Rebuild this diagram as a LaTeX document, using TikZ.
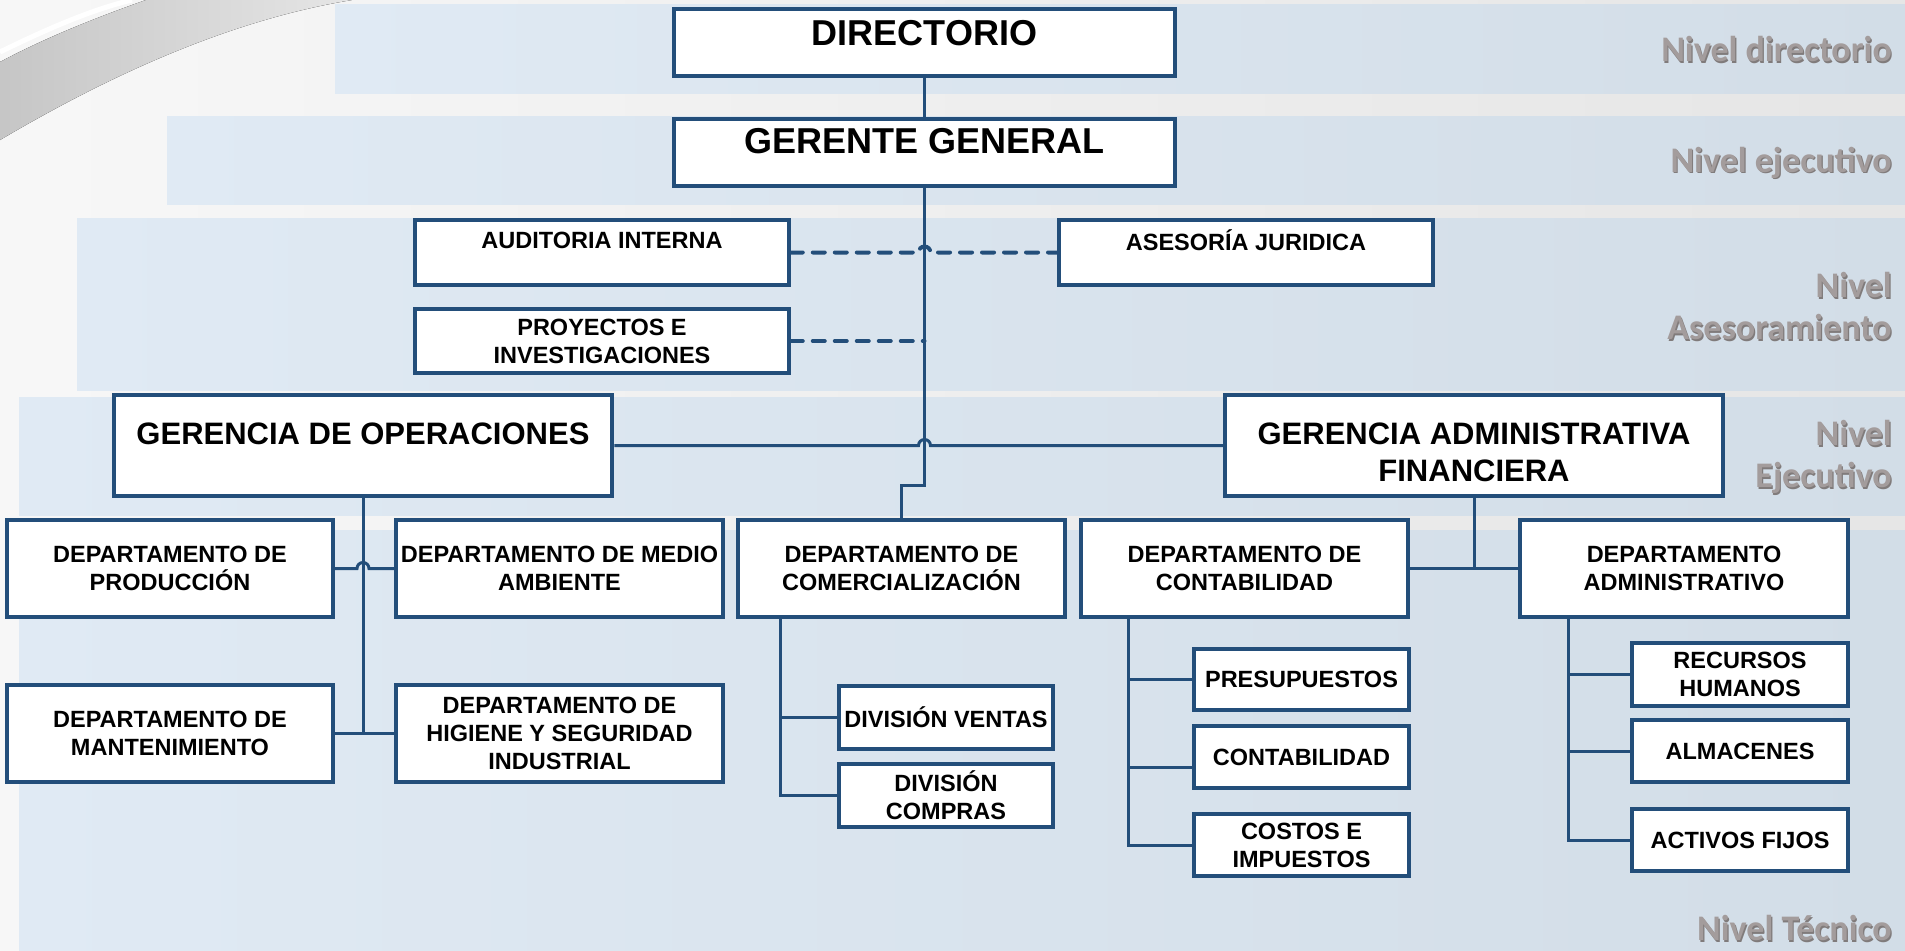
\documentclass[tikz,border=0pt]{standalone}
\usepackage{fontspec}
\setmainfont{Liberation Sans}
\newfontfamily\nivelfont{Carlito}
\usetikzlibrary{calc}

\definecolor{orgblue}{RGB}{35,78,122}
\definecolor{bandL}{RGB}{224,234,244}
\definecolor{bandR}{RGB}{210,221,231}
\definecolor{nivelgray}{RGB}{163,156,156}
\definecolor{nivelshadow}{RGB}{128,123,123}

\newcommand\nivtxt[1]{\rlap{\kern1.2pt\raisebox{-1.2pt}{\color{nivelshadow}#1}}#1}

\tikzset{
  orgbox/.style={draw=orgblue, fill=white, line width=3.5pt, inner sep=2pt, align=center,
    font=\bfseries\fontsize{23.5}{28}\selectfont},
  bigbox/.style={orgbox, line width=4pt, font=\bfseries\fontsize{36}{40}\selectfont},
  gerbox/.style={orgbox, line width=4.5pt, font=\bfseries\fontsize{31}{37}\selectfont},
  boxsize/.style 2 args={minimum width=#1pt-4pt, minimum height=#2pt-4pt},
  raised/.style 2 args={text height=#1, text depth=#2},
  link/.style={draw=orgblue, line width=3pt},
  dashlink/.style={draw=orgblue, line width=4pt, dash pattern=on 12pt off 10pt, line cap=round},
  band/.style={left color=bandL, right color=bandR},
  nivel/.style={anchor=east, align=right, inner sep=0pt, text=nivelgray,
    font=\nivelfont\bfseries\fontsize{36}{42}\selectfont},
}

\begin{document}
\begin{tikzpicture}[x=1pt, y=-1pt]
  \useasboundingbox (0,0) rectangle (1905,950);
  % fondo y franjas
  \fill[left color=white!97!black, right color=white!90!black] (0,0) rectangle (1905,950);
  \fill[left color=gray!45, right color=gray!20] (0,140) .. controls (110,75) and (230,20) .. (352,0) -- (146,0) .. controls (95,18) and (45,38) .. (0,62) -- cycle;
  \draw[white, line width=5pt] (0,52) .. controls (45,30) and (90,10) .. (132,0);
  \fill[band] (335,5) rectangle (1905,93);
  \fill[band] (167,116) rectangle (1905,204);
  \fill[band] (77,218) rectangle (1905,390);
  \fill[band] (19,397) rectangle (1905,515);
  \fill[band] (19,530) rectangle (1905,950);

  % niveles
  \node[nivel] (nivdir) at (1892,50) {\nivtxt{Nivel directorio}};
  \node[nivel] (niveje) at (1892,163) {\nivtxt{Nivel ejecutivo}};
  \node[nivel] (nivase) at (1892,307) {\nivtxt{Nivel}\\\nivtxt{Asesoramiento}};
  \node[nivel] (nivger) at (1892,458) {\nivtxt{Nivel}\\\nivtxt{Ejecutivo}};
  \node[nivel] (nivtec) at (1892,929) {\nivtxt{Nivel Técnico}};

  % cajas
  \node[bigbox, boxsize={505}{71}, raised={26pt}{19pt}] (dir) at (924.5,42.5) {DIRECTORIO};
  \node[bigbox, boxsize={505}{71}, raised={26pt}{25pt}] (gg) at (924.5,152.5) {GERENTE GENERAL};
  \node[orgbox, boxsize={378}{69}, raised={16.5pt}{25pt}] (aud) at (602,252.5) {AUDITORIA INTERNA};
  \node[orgbox, boxsize={378}{68}] (proy) at (602,341) {PROYECTOS E\\INVESTIGACIONES};
  \node[orgbox, boxsize={378}{69}, raised={16.5pt}{21pt}] (ases) at (1246,252.5) {ASESORÍA JURIDICA};
  \node[gerbox, boxsize={502}{105}, raised={22pt}{25pt}] (gops) at (363,445.5) {GERENCIA DE OPERACIONES};
  \node[gerbox, boxsize={502}{105}] (gadm) at (1474,445.5) {\rule{0pt}{36pt}GERENCIA ADMINISTRATIVA\\FINANCIERA};

  \node[orgbox, boxsize={330}{101}] (prod) at (170,568.5) {DEPARTAMENTO DE\\PRODUCCIÓN};
  \node[orgbox, boxsize={330}{101}] (mant) at (170,733.5) {DEPARTAMENTO DE\\MANTENIMIENTO};
  \node[orgbox, boxsize={331}{101}] (medio) at (559.5,568.5) {DEPARTAMENTO DE MEDIO\\AMBIENTE};
  \node[orgbox, boxsize={331}{101}] (hig) at (559.5,733.5) {DEPARTAMENTO DE\\HIGIENE Y SEGURIDAD\\INDUSTRIAL};
  \node[orgbox, boxsize={331}{101}] (com) at (901.5,568.5) {DEPARTAMENTO DE\\COMERCIALIZACIÓN};
  \node[orgbox, boxsize={218}{67}] (ventas) at (946,717.5) {DIVISIÓN VENTAS};
  \node[orgbox, boxsize={218}{67}] (compras) at (946,795.5) {DIVISIÓN\\COMPRAS};
  \node[orgbox, boxsize={331}{101}] (cont) at (1244.5,568.5) {DEPARTAMENTO DE\\CONTABILIDAD};
  \node[orgbox, boxsize={332}{101}] (admin) at (1684,568.5) {DEPARTAMENTO\\ADMINISTRATIVO};
  \node[orgbox, boxsize={219}{65}] (pres) at (1301.5,679.5) {PRESUPUESTOS};
  \node[orgbox, boxsize={219}{66}] (contab) at (1301.5,757) {CONTABILIDAD};
  \node[orgbox, boxsize={219}{66}] (costos) at (1301.5,845) {COSTOS E\\IMPUESTOS};
  \node[orgbox, boxsize={220}{67}] (rrhh) at (1740,674.5) {RECURSOS\\HUMANOS};
  \node[orgbox, boxsize={220}{66}] (alm) at (1740,751) {ALMACENES};
  \node[orgbox, boxsize={220}{66}] (act) at (1740,840) {ACTIVOS FIJOS};

  % conexiones
  \coordinate (jog) at (924.5,485);
  \coordinate (comtap) at ($(com.south west)+(44,0)$);
  \coordinate (conttap) at ($(cont.south west)+(49,0)$);
  \coordinate (admtap) at ($(admin.south west)+(50,0)$);

  \draw[dashlink] (aud.east) -- ($(aud.east -| gg.south)+(-6,0)$) arc[start angle=180, end angle=0, radius=6pt] -- (ases.west);
  \draw[dashlink] (proy.east) -- (proy.east -| gg.south);
  \draw[link] (dir) -- (gg);
  \draw[link] (gg.south) -- (jog) -| (com.north);
  \draw[link] (gops.east) -- ($(gops.east -| gg.south)+(-6,0)$) arc[start angle=180, end angle=0, radius=6pt] -- (gadm.west);

  \draw[link] (gops.south) -- (gops.south |- mant.east);
  \draw[link] (prod.east) -- ($(prod.east -| gops.south)+(-6,0)$) arc[start angle=180, end angle=0, radius=6pt] -- (medio.west);
  \draw[link] (mant.east) -- (hig.west);

  \draw[link] (comtap) |- (compras.west);
  \draw[link] (comtap |- ventas.west) -- (ventas.west);

  \draw[link] (gadm.south) -- (gadm.south |- cont.east);
  \draw[link] (cont.east) -- (admin.west);

  \draw[link] (conttap) |- (costos.west);
  \draw[link] (conttap |- pres.west) -- (pres.west);
  \draw[link] ($(conttap |- contab.west)+(0,10)$) -- ($(contab.west)+(0,10)$);

  \draw[link] (admtap) |- (act.west);
  \draw[link] (admtap |- rrhh.west) -- (rrhh.west);
  \draw[link] (admtap |- alm.west) -- (alm.west);
\end{tikzpicture}
\end{document}
